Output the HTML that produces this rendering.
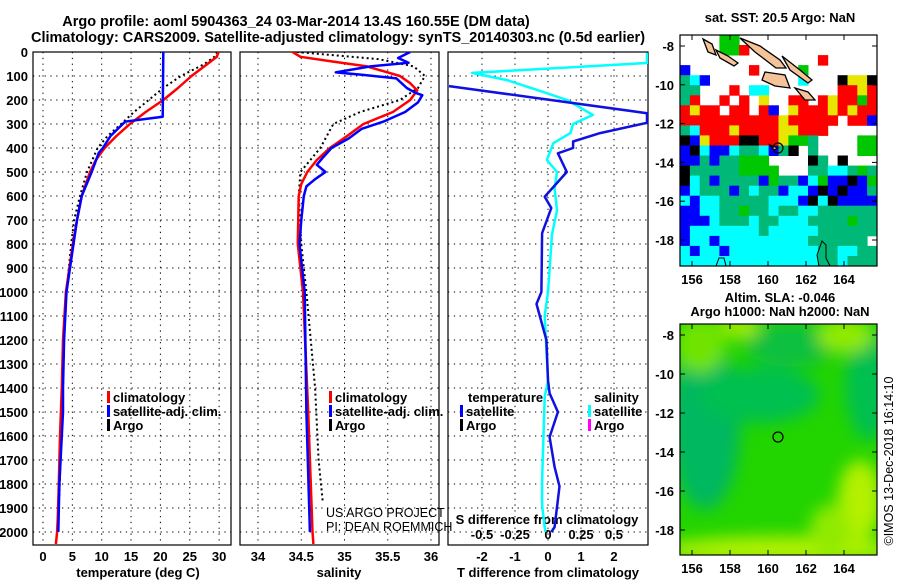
<!DOCTYPE html>
<html><head><meta charset="utf-8"><style>
body{margin:0;background:#fff;width:900px;height:580px;overflow:hidden}
svg text{font-family:"Liberation Sans",sans-serif;font-weight:bold;font-size:13px}
svg text.thin{font-weight:normal;font-size:12.5px}
svg text.big{font-size:14.5px}
</style></head><body>
<svg id="s" width="900" height="580" viewBox="0 0 900 580" xmlns="http://www.w3.org/2000/svg">
<defs>
<clipPath id="c1"><rect x="33" y="52" width="198" height="493"/></clipPath>
<clipPath id="c2"><rect x="240" y="52" width="199" height="493"/></clipPath>
<clipPath id="c3"><rect x="448" y="52" width="200" height="493"/></clipPath>
<clipPath id="m1"><rect x="680" y="35" width="197" height="231"/></clipPath>
<clipPath id="m2"><rect x="680" y="324" width="197" height="231"/></clipPath>
<filter id="bl"><feGaussianBlur stdDeviation="8"/></filter>
</defs>
<text class="big" x="296" y="26" text-anchor="middle">Argo profile: aoml 5904363_24 03-Mar-2014 13.4S 160.55E (DM data)</text>
<text class="big" x="338" y="42" text-anchor="middle">Climatology: CARS2009. Satellite-adjusted climatology: synTS_20140303.nc (0.5d earlier)</text>
<g id="g"></g>
</svg>
<script>
// ---- data ----
const depthTicks=[0,100,200,300,400,500,600,700,800,900,1000,1100,1200,1300,1400,1500,1600,1700,1800,1900,2000];
const tTicks=[0,5,10,15,20,25,30];
const sTicks=[34,34.5,35,35.5,36];
const dTicks=[-2,-1,0,1,2];
const sdTickLabels=["-0.5","-0.25","0","0.25","0.5"];
const tClimDepth=[0,20,50,100,150,200,250,300,350,400,450,500,600,700,800,900,1000,1200,1400,1600,1800,1950,2000,2050];
const tClimVal=[29.9,29.6,28,25.3,23,20.5,17.5,14.8,12.5,10.5,9,8,6.6,5.8,5.1,4.5,3.9,3.4,3.2,2.9,2.7,2.5,2.4,2.2];
const tSatDepth=[0,270,290,350,400,420,500,600,700,800,900,1000,1200,1400,1500,1600,1800,2000];
const tSatVal=[20.5,20.4,14,11.5,10.2,9.5,8.3,6.6,5.8,5.2,4.6,4.0,3.6,3.4,3.4,3.2,2.8,2.6];
const tArgoDepth=[0,20,50,100,150,200,250,300,350,400,500,600,700,800,1000,1200,1500,1850];
const tArgoVal=[29.7,29.2,27.5,23.5,20.5,18,15.5,13.3,11,9.3,7.5,6.3,5.3,4.8,4.0,3.6,3.2,2.8];
const sClimDepth=[0,20,40,60,100,130,160,200,250,300,350,400,450,500,550,600,800,1000,1500,2000,2050];
const sClimVal=[34.40,34.49,34.87,35.26,35.64,35.76,35.84,35.76,35.56,35.22,35.03,34.83,34.68,34.57,34.5,34.47,34.46,34.52,34.58,34.63,34.64];
const sSatDepth=[0,25,45,60,85,95,110,150,170,180,210,250,290,320,360,400,440,470,500,530,560,600,700,800,1000,1500,2000];
const sSatVal=[35.76,35.62,35.74,35.3,34.9,35.2,35.6,35.72,35.82,35.9,35.85,35.7,35.45,35.2,35.05,34.85,34.75,34.68,34.78,34.66,34.56,34.53,34.5,34.48,34.54,34.56,34.6];
const sArgoDepth=[0,30,60,100,150,200,250,300,400,500,600,800,1000,1400,1700,1880];
const sArgoVal=[34.45,35.4,35.8,35.93,35.85,35.64,35.18,34.87,34.72,34.49,34.47,34.5,34.56,34.66,34.7,34.75];
const dTDepth=[142,255,295,338,373,400,422,500,603,650,755,1000,1050,1200,1367,1422,1500,1604,1729,1810,1979,2000];
const dTVal=[-3.0,3.0,3.0,1.58,0.76,0.76,0.3,0.57,-0.1,0.1,-0.18,-0.2,-0.35,-0.05,0,0.05,0.3,0.05,0.2,0.35,0.2,0.1];
const dSDepth=[4,46,87,117,158,200,262,300,338,380,450,500,570,660,760,1000,1100,1367,1437,1783,1890,1980,2000];
const dSVal=[0.75,0.75,-0.575,-0.31,-0.083,0.145,0.34,0.19,0.17,0.04,-0.008,0.068,0.05,0.068,0.03,0,-0.025,0,-0.025,-0.045,-0.045,-0.025,-0.02];
const lonTicks=[156,158,160,162,164];
const latTicks=[-8,-10,-12,-14,-16,-18];
const sstRows=[
"....gg..............",
"....ggr.............",
"..............r.....",
"b......r....g.......",
"tcb.........c...kyyk",
"tt...r.cc.......rryr",
"tr..r.r.y..rr.ryrrgr",
"ryrr.rr.rb.yrrryryrr",
"rrrrrrrrrryrrrrr.rrb",
"tcrrryrrrryyrrr.....",
"kbyrrrkkrryggt....gg",
"bkcbbcttcbtk.t....gg",
"bbtbttggg....kt.k...",
"ktttttgggg...ttcctgt",
"kctbttttbgttbcgbbkbg",
"bctttbtcttbccbkbkbbt",
"cbcctttttcccbkckbbbb",
"bbccttgttcttcctttttt",
"bbbctttcttcccttttgtt",
"bccccccctccccctttttt",
"bccbccccccccctttttt",
"cbccbcccccccccttcctt",
"ccccccccccccccttcttt"];
const sstColors={r:"#ff0000",y:"#e6e600",g:"#00c800",t:"#00b878",c:"#00ffff",b:"#0000ff",k:"#000000"};

// ---- helpers ----
const NS="http://www.w3.org/2000/svg";
const G=document.getElementById('g');
function mk(tag,attrs,parent){const e=document.createElementNS(NS,tag);for(const k in attrs)e.setAttribute(k,attrs[k]);(parent||G).appendChild(e);return e;}
const Y0=52,PXM=0.24;
const yD=d=>Y0+d*PXM;
const xT=v=>43+v*5.87;
const xS=v=>258+(v-34)*86.5;
const xDT=v=>548+v*33;
const xDS=v=>548+v*132;
const lonX=l=>692+(l-156)*19;
const latY1=l=>46+(-8-l)*19.4;
const latY2=l=>335+(-8-l)*19.5;

function panel(x0,x1,gx,name){
  const fr=mk('rect',{x:x0,y:52,width:x1-x0,height:493,fill:'none',stroke:'#000','stroke-width':1.2});
  
  
  depthTicks.forEach(d=>{const l=mk('line',{x1:x0,x2:x1,y1:yD(d),y2:yD(d),stroke:'#000','stroke-width':1,'stroke-dasharray':'1.3 4.5'});
    
    });
  gx.forEach(x=>{const l=mk('line',{x1:x,x2:x,y1:52,y2:545,stroke:'#000','stroke-width':1,'stroke-dasharray':'1.3 4.5'});
    
    });
}
function curve(ds,vs,fx,clip,color,w,dash,name){
  let p=ds.map((d,i)=>(i?'L':'M')+fx(vs[i]).toFixed(1)+' '+yD(d).toFixed(1)).join('');
  const e=mk('path',{d:p,fill:'none',stroke:color,'stroke-width':w,'clip-path':'url(#'+clip+')','stroke-linejoin':'round'});
  if(dash)e.setAttribute('stroke-dasharray',dash);
  
  
}
function txt(x,y,s,anchor,name,extra){const e=mk('text',Object.assign({x:x,y:y,'text-anchor':anchor||'start'},extra||{}));e.textContent=s;
  
  return e;}

// panels
panel(33,231,tTicks.map(xT),'temperature-panel');
panel(240,439,sTicks.map(xS),'salinity-panel');
panel(448,648,dTicks.map(xDT),'difference-panel');
depthTicks.forEach(d=>txt(28,yD(d)+5,String(d),'end','depth-tick-label'));
tTicks.forEach(v=>txt(xT(v),561,String(v),'middle','temperature-tick-label'));
sTicks.forEach(v=>txt(xS(v),561,String(v),'middle','salinity-tick-label'));
dTicks.forEach(v=>txt(xDT(v),561,String(v),'middle','t-diff-tick-label'));
sdTickLabels.forEach((s,i)=>txt(xDS(+s),539,s,'middle','s-diff-tick-label'));
txt(138,577,'temperature (deg C)','middle','temperature-axis-title');
txt(339,577,'salinity','middle','salinity-axis-title');
txt(548,577,'T difference from climatology','middle','t-diff-axis-title');
txt(547,524,'S difference from climatology','middle','s-diff-axis-title');

// curves
curve(tArgoDepth,tArgoVal,xT,'c1','#000',2,'2 3','temperature-argo-line');
curve(tClimDepth,tClimVal,xT,'c1','#ff0000',2.5,null,'temperature-climatology-line');
curve(tSatDepth,tSatVal,xT,'c1','#0000ff',2.5,null,'temperature-satellite-line');
curve(sArgoDepth,sArgoVal,xS,'c2','#000',2,'2 3','salinity-argo-line');
curve(sClimDepth,sClimVal,xS,'c2','#ff0000',2.5,null,'salinity-climatology-line');
curve(sSatDepth,sSatVal,xS,'c2','#0000ff',2.5,null,'salinity-satellite-line');
curve(dSDepth,dSVal,xDS,'c3','#00ffff',2.5,null,'salinity-difference-line');
curve(dTDepth,dTVal,xDT,'c3','#1010e0',2.5,null,'temperature-difference-line');

// legends
function leg(x,y,color,label,name){const r=mk('rect',{x:x,y:y-11,width:3,height:12,fill:color});
  
  
  txt(x+6,y,label,'start',name);}
leg(107,402,'#ff0000','climatology','legend-climatology');
leg(107,416,'#0000ff','satellite-adj. clim.','legend-satellite-adj');
leg(107,430,'#000','Argo','legend-argo');
leg(329,402,'#ff0000','climatology','legend-climatology-2');
leg(329,416,'#0000ff','satellite-adj. clim.','legend-satellite-adj-2');
leg(329,430,'#000','Argo','legend-argo-2');
txt(468,402,'temperature','start','legend-temperature-heading');
leg(460,416,'#0000ff','satellite','legend-temp-satellite');
leg(460,430,'#000','Argo','legend-temp-argo');
txt(594,402,'salinity','start','legend-salinity-heading');
leg(588,416,'#00ffff','satellite','legend-sal-satellite');
leg(588,430,'#ff00ff','Argo','legend-sal-argo');
txt(326,517,'US ARGO PROJECT','start','credit-project',{'class':'thin'});
txt(326,531,'PI: DEAN ROEMMICH','start','credit-pi',{'class':'thin'});

// map 1 SST grid
const cw=197/20,ch=231/23;
sstRows.forEach((row,r)=>{[...row].forEach((c,k)=>{if(c==='.')return;
  const e=mk('rect',{x:(680+k*cw).toFixed(1),y:(35+r*ch).toFixed(1),width:(cw+0.5).toFixed(1),height:(ch+0.5).toFixed(1),fill:sstColors[c],'clip-path':'url(#m1)'});
  
  });});

// map 2 SLA smooth field
const m2=mk('g',{'clip-path':'url(#m2)'});


mk('rect',{x:680,y:324,width:197,height:231,fill:'#22d400'},m2);
const bf=mk('g',{filter:'url(#bl)'},m2);
[[705,425,35,85,'#00b860'],[790,345,45,22,'#10c040'],[760,395,60,28,'#00c050'],[870,385,25,55,'#00c050'],[700,345,25,28,'#70e400'],[845,335,28,18,'#90ea00'],[860,500,22,40,'#b4f000'],[780,550,120,14,'#b0f000'],[740,327,20,12,'#a0ea00'],[830,530,20,25,'#90ea00']].forEach(a=>
  mk('ellipse',{cx:a[0],cy:a[1],rx:a[2],ry:a[3],fill:a[4]},bf));

// islands + frames for both maps
function mapDecor(yOff,latY,name){
  const isl=mk('g',{transform:'translate(0,'+yOff+')','clip-path':yOff?'url(#m2)':'url(#m1)'});
  
  
  ['M703 39 L712 44 L716 55 L708 52 Z','M716 50 L728 56 L738 63 L734 66 L720 58 Z','M740 38 L760 46 L780 60 L786 68 L776 68 L755 52 Z',
   'M765 72 L785 75 L790 88 L775 86 L762 80 Z','M782 56 L800 70 L812 80 L808 83 L790 70 Z','M795 88 L808 92 L815 100 L805 100 Z','M770 145 L778 148 L774 150 Z']
   .forEach(d=>mk('path',{d:d,fill:'#f5c39a',stroke:'#000','stroke-width':1.3},isl));
  mk('path',{d:'M716 266 L719 258 L724 258 L726 266',fill:'none',stroke:'#000','stroke-width':1},isl);
  mk('path',{d:'M819 266 L817 255 L822 241 L826 245 L826 258 L830 266',fill:'none',stroke:'#000','stroke-width':1},isl);
  const c=mk('circle',{cx:778,cy:148+yOff,r:5,fill:'none',stroke:'#000','stroke-width':1.2});
  
  
  const fr=mk('rect',{x:680,y:yOff?324:35,width:197,height:231,fill:'none',stroke:'#000','stroke-width':1.2});
  
  
  const yb=yOff?555:266,yt=yOff?324:35;
  lonTicks.forEach(l=>{mk('line',{x1:lonX(l),x2:lonX(l),y1:yb,y2:yb-5,stroke:'#000'});mk('line',{x1:lonX(l),x2:lonX(l),y1:yt,y2:yt+5,stroke:'#000'});
    txt(lonX(l),yb+18,String(l),'middle',name+'-lon-label');});
  latTicks.forEach(l=>{mk('line',{x1:680,x2:685,y1:latY(l),y2:latY(l),stroke:'#000'});mk('line',{x1:872,x2:877,y1:latY(l),y2:latY(l),stroke:'#000'});
    txt(674,latY(l)+5,String(l),'end',name+'-lat-label');});
}
mapDecor(0,latY1,'sst-map');
mapDecor(289,latY2,'sla-map');
txt(780,22,'sat. SST: 20.5 Argo: NaN','middle','sst-map-title');
txt(780,302,'Altim. SLA: -0.046','middle','sla-map-title');
txt(780,316,'Argo h1000: NaN h2000: NaN','middle','sla-map-subtitle');
txt(0,0,'©IMOS 13-Dec-2018 16:14:10','middle','imos-timestamp',{transform:'translate(893,461) rotate(-90)','class':'thin'});
</script>
</body></html>
